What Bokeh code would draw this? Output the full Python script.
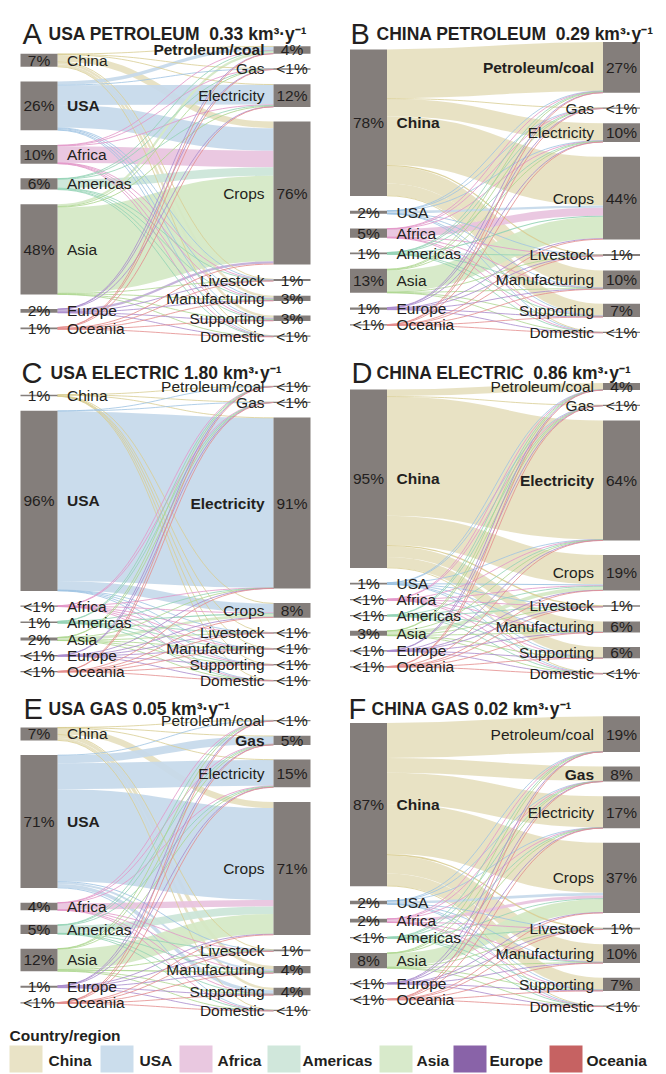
import numpy as np
from bokeh.plotting import figure
from bokeh.models import Range1d, ColumnDataSource
from bokeh.core.properties import value
from bokeh.embed import file_html
from bokeh.resources import INLINE

# ---------------- data ----------------
regions = ["China", "USA", "Africa", "Americas", "Asia", "Europe", "Oceania"]
sectors = ["Petroleum/coal", "Gas", "Electricity", "Crops", "Livestock",
           "Manufacturing", "Supporting", "Domestic"]

panel_letters = ["A", "B", "C", "D", "E", "F"]
panel_names = ["USA PETROLEUM\u00a0\u00a0", "CHINA PETROLEUM\u00a0\u00a0", "USA ELECTRIC ",
               "CHINA ELECTRIC\u00a0\u00a0", "USA GAS ", "CHINA GAS "]
panel_totals = ["0.33", "0.29", "1.80", "0.86", "0.05", "0.02"]
home_region = ["USA", "China", "USA", "China", "USA", "China"]
home_sector = ["Petroleum/coal", "Petroleum/coal", "Electricity", "Electricity", "Gas", "Gas"]

# flows in % of each panel's total: rows = regions, columns = sectors
flows_usa_petroleum = [
    [0.30, 0.05, 0.30, 3.50, 0.20, 1.20, 1.30, 0.15],
    [1.80, 0.20, 10.5, 12.0, 0.30, 0.50, 0.50, 0.20],
    [0.30, 0.05, 0.30, 8.80, 0.10, 0.20, 0.20, 0.05],
    [0.30, 0.05, 0.30, 4.50, 0.10, 0.30, 0.40, 0.05],
    [1.20, 0.10, 0.50, 45.5, 0.20, 0.30, 0.15, 0.05],
    [0.10, 0.05, 0.10, 1.20, 0.10, 0.20, 0.20, 0.05],
    [0.05, 0.02, 0.10, 0.50, 0.05, 0.10, 0.15, 0.03],
]
flows_china_petroleum = [
    [26.0, 0.30, 9.20, 26.0, 0.60, 9.20, 6.40, 0.30],
    [0.10, 0.02, 0.10, 1.20, 0.05, 0.10, 0.10, 0.03],
    [0.20, 0.03, 0.15, 4.20, 0.07, 0.15, 0.15, 0.05],
    [0.05, 0.01, 0.05, 0.60, 0.03, 0.07, 0.07, 0.02],
    [0.45, 0.08, 0.35, 11.4, 0.15, 0.20, 0.12, 0.05],
    [0.15, 0.04, 0.10, 0.40, 0.07, 0.20, 0.20, 0.04],
    [0.05, 0.02, 0.05, 0.20, 0.03, 0.03, 0.01, 0.01],
]
flows_usa_electric = [
    [0.05, 0.02, 0.30, 0.30, 0.03, 0.05, 0.03, 0.02],
    [0.10, 0.10, 90.3, 4.80, 0.12, 0.15, 0.13, 0.10],
    [0.01, 0.02, 0.05, 0.28, 0.01, 0.01, 0.01, 0.01],
    [0.01, 0.02, 0.10, 0.60, 0.02, 0.02, 0.02, 0.01],
    [0.01, 0.02, 0.10, 1.40, 0.01, 0.02, 0.03, 0.01],
    [0.01, 0.01, 0.03, 0.22, 0.01, 0.03, 0.02, 0.02],
    [0.01, 0.01, 0.02, 0.16, 0.01, 0.02, 0.01, 0.01],
]
flows_china_electric = [
    [3.60, 0.30, 63.2, 15.6, 0.70, 5.70, 5.60, 0.30],
    [0.03, 0.02, 0.15, 0.55, 0.03, 0.05, 0.05, 0.02],
    [0.02, 0.01, 0.08, 0.30, 0.02, 0.03, 0.03, 0.01],
    [0.02, 0.01, 0.05, 0.25, 0.02, 0.02, 0.02, 0.01],
    [0.10, 0.03, 0.20, 1.95, 0.08, 0.06, 0.15, 0.03],
    [0.02, 0.02, 0.08, 0.10, 0.03, 0.03, 0.04, 0.03],
    [0.01, 0.01, 0.04, 0.10, 0.02, 0.01, 0.01, 0.05],
]
flows_usa_gas = [
    [0.05, 0.10, 0.20, 3.30, 0.10, 1.80, 1.30, 0.05],
    [0.20, 4.20, 13.8, 48.9, 0.50, 1.00, 1.90, 0.30],
    [0.02, 0.10, 0.20, 3.40, 0.05, 0.10, 0.10, 0.03],
    [0.03, 0.20, 0.25, 4.00, 0.07, 0.15, 0.15, 0.05],
    [0.05, 0.15, 0.25, 10.6, 0.10, 0.60, 0.20, 0.05],
    [0.03, 0.03, 0.07, 0.40, 0.05, 0.20, 0.20, 0.02],
    [0.02, 0.02, 0.03, 0.20, 0.03, 0.05, 0.04, 0.01],
]
flows_china_gas = [
    [18.7, 7.80, 16.7, 26.6, 0.70, 9.60, 6.50, 0.30],
    [0.05, 0.04, 0.06, 1.40, 0.05, 0.08, 0.10, 0.02],
    [0.05, 0.03, 0.05, 1.60, 0.04, 0.06, 0.05, 0.02],
    [0.02, 0.01, 0.02, 0.30, 0.01, 0.02, 0.01, 0.01],
    [0.12, 0.08, 0.10, 7.20, 0.12, 0.23, 0.30, 0.05],
    [0.03, 0.02, 0.04, 0.15, 0.04, 0.06, 0.03, 0.08],
    [0.03, 0.02, 0.03, 0.15, 0.04, 0.05, 0.01, 0.02],
]
panel_flows = [flows_usa_petroleum, flows_china_petroleum, flows_usa_electric,
               flows_china_electric, flows_usa_gas, flows_china_gas]

# ---------------- styles ----------------
legend_colors = ["#e9e3c6", "#cbddec", "#e9c8e0", "#d0e7db", "#d8eacb", "#8963a8", "#c66262"]
band_colors = ["#e6dfbf", "#c6d9ea", "#e8c3de", "#cbe5d8", "#d4e8c4", "#c1aed8", "#e4aaaa"]
thin_colors = ["#d9cd93", "#9fc3e2", "#e397c9", "#93d3b5", "#add690", "#a98bcc", "#e48d8d"]
NODE_COLOR = "#847e7b"
TEXT_COLOR = "#231f20"
FONT = value("Liberation Sans")
LBL_SIZE = "15.5px"

K = 1.88      # px per percent
GAP = 14.6    # px between nodes
MINH = 1.3    # minimal node height
BAR_W = 37
col_dx = [0.0, 329.5]
row_centers = [[191.0, 187.0], [533.0, 528.0], [865.0, 861.0]]
title_base = [33, 372, 708]
letter_x = [[22, 350], [21, 351], [23, 348]]
name_x = [[48, 376], [50, 376], [48, 371]]


def pct(v):
    return "<1%" if v < 0.6 else f"{int(v + 0.5)}%"


def column_layout(vals, center):
    hs = [max(K * v, MINH) for v in vals]
    total = sum(hs) + GAP * (len(vals) - 1)
    y = center - total / 2.0
    tops = []
    for h in hs:
        tops.append(y)
        y += h + GAP
    return tops, hs


p = figure(width=666, height=1074, x_range=Range1d(0, 666), y_range=Range1d(1074, 0),
           output_backend="svg", toolbar_location=None, min_border=0,
           x_axis_type=None, y_axis_type=None)
p.outline_line_color = None
p.background_fill_color = "white"

bands = dict(x0=[], y0=[], x1=[], y1=[], cx0=[], cy0=[], cx1=[], cy1=[], w=[], c=[])
thins = dict(x0=[], y0=[], x1=[], y1=[], cx0=[], cy0=[], cx1=[], cy1=[], w=[], c=[])
bars = dict(l=[], r=[], t=[], b=[])
pct_txt = dict(x=[], y=[], t=[])
lab_norm = dict(x=[], y=[], t=[], a=[])
lab_bold = dict(x=[], y=[], t=[], a=[])
letters = dict(x=[], y=[], t=[])
titles = dict(x=[], y=[], t=[])

for pi, F in enumerate(panel_flows):
    F = np.array(F, dtype=float)
    row, col = divmod(pi, 2)
    dx = col_dx[col]
    center = row_centers[row][col]
    src_vals = F.sum(axis=1)
    tgt_vals = F.sum(axis=0)
    s_tops, s_hs = column_layout(src_vals, center)
    t_tops, t_hs = column_layout(tgt_vals, center)
    lx0 = 20 + dx
    lx1 = lx0 + BAR_W
    rx0 = 273 + dx
    rx1 = rx0 + BAR_W
    xm = (lx1 + rx0) / 2.0

    s_cursor = [s_tops[i] + (s_hs[i] - K * src_vals[i]) / 2 for i in range(len(regions))]
    t_cursor = [t_tops[j] + (t_hs[j] - K * tgt_vals[j]) / 2 for j in range(len(sectors))]
    y0s = np.zeros(F.shape)
    y1s = np.zeros(F.shape)
    for i in range(len(regions)):
        for j in range(len(sectors)):
            w = K * F[i, j]
            y0s[i, j] = s_cursor[i] + w / 2
            s_cursor[i] += w
    for j in range(len(sectors)):
        for i in range(len(regions)):
            w = K * F[i, j]
            y1s[i, j] = t_cursor[j] + w / 2
            t_cursor[j] += w
    for i in range(len(regions)):
        for j in range(len(sectors)):
            f = F[i, j]
            if f <= 0:
                continue
            w = K * f
            d = bands if w >= 1.8 else thins
            d["x0"].append(lx1); d["y0"].append(y0s[i, j])
            d["x1"].append(rx0); d["y1"].append(y1s[i, j])
            d["cx0"].append(xm); d["cy0"].append(y0s[i, j])
            d["cx1"].append(xm); d["cy1"].append(y1s[i, j])
            if w >= 1.8:
                d["w"].append(w); d["c"].append(band_colors[i])
            else:
                d["w"].append(max(w, 0.9)); d["c"].append(thin_colors[i])

    for i, r in enumerate(regions):
        bars["l"].append(lx0); bars["r"].append(lx1)
        bars["t"].append(s_tops[i]); bars["b"].append(s_tops[i] + s_hs[i])
        yc = s_tops[i] + s_hs[i] / 2
        pct_txt["x"].append((lx0 + lx1) / 2); pct_txt["y"].append(yc); pct_txt["t"].append(pct(src_vals[i]))
        d = lab_bold if r == home_region[pi] else lab_norm
        d["x"].append(lx1 + 9.5); d["y"].append(yc); d["t"].append(r); d["a"].append("left")
    for j, s in enumerate(sectors):
        bars["l"].append(rx0); bars["r"].append(rx1)
        bars["t"].append(t_tops[j]); bars["b"].append(t_tops[j] + t_hs[j])
        yc = t_tops[j] + t_hs[j] / 2
        pct_txt["x"].append((rx0 + rx1) / 2); pct_txt["y"].append(yc); pct_txt["t"].append(pct(tgt_vals[j]))
        d = lab_bold if s == home_sector[pi] else lab_norm
        d["x"].append(rx0 - 9); d["y"].append(yc); d["t"].append(s); d["a"].append("right")

    letters["x"].append(letter_x[row][col]); letters["y"].append(title_base[row])
    letters["t"].append(panel_letters[pi])
    titles["x"].append(name_x[row][col]); titles["y"].append(title_base[row])
    titles["t"].append(panel_names[pi] + panel_totals[pi] + " km\u00b3\u00b7y\u207b\u00b9")

# links
p.bezier(x0="x0", y0="y0", x1="x1", y1="y1", cx0="cx0", cy0="cy0", cx1="cx1", cy1="cy1",
         line_width="w", line_color="c", line_alpha=0.92, source=ColumnDataSource(bands))
p.bezier(x0="x0", y0="y0", x1="x1", y1="y1", cx0="cx0", cy0="cy0", cx1="cx1", cy1="cy1",
         line_width="w", line_color="c", line_alpha=0.9, source=ColumnDataSource(thins))

# nodes
p.quad(left="l", right="r", top="t", bottom="b", fill_color=NODE_COLOR, line_color=None,
       source=ColumnDataSource(bars))

p.text(x="x", y="y", text="t", source=ColumnDataSource(pct_txt), text_align="center",
       text_baseline="middle", text_font=FONT, text_font_size=LBL_SIZE, text_color=TEXT_COLOR)
p.text(x="x", y="y", text="t", text_align="a", source=ColumnDataSource(lab_norm),
       text_baseline="middle", text_font=FONT, text_font_size=LBL_SIZE, text_color=TEXT_COLOR)
p.text(x="x", y="y", text="t", text_align="a", source=ColumnDataSource(lab_bold),
       text_baseline="middle", text_font=FONT, text_font_size=LBL_SIZE, text_color=TEXT_COLOR,
       text_font_style="bold")

# titles
p.text(x="x", y="y", text="t", source=ColumnDataSource(letters), text_align="left",
       text_baseline="alphabetic", text_font=FONT, text_font_size="29px", text_color=TEXT_COLOR)
p.text(x="x", y="y", text="t", source=ColumnDataSource(titles), text_align="left",
       text_baseline="alphabetic", text_font=FONT, text_font_size="17.5px",
       text_font_style="bold", text_color=TEXT_COLOR)

# legend
legend_box_x = [9, 100, 179, 267, 379, 453, 549]
legend_label_x = [48, 139, 217, 302, 416, 489, 586]
LEG_TOP, LEG_BOT = 1045, 1072
p.quad(left=legend_box_x, right=[x + 33 for x in legend_box_x],
       top=[LEG_TOP] * len(regions), bottom=[LEG_BOT] * len(regions),
       fill_color=legend_colors, line_color=None)
p.text(x=legend_label_x, y=[1060] * len(regions), text=regions, text_align="left",
       text_baseline="middle", text_font=FONT, text_font_size="15.5px",
       text_font_style="bold", text_color=TEXT_COLOR)
p.text(x=[9], y=[1035], text=["Country/region"], text_align="left",
       text_baseline="middle", text_font=FONT, text_font_size="15.5px",
       text_font_style="bold", text_color=TEXT_COLOR)

open("out.html", "w").write(file_html(p, INLINE))
